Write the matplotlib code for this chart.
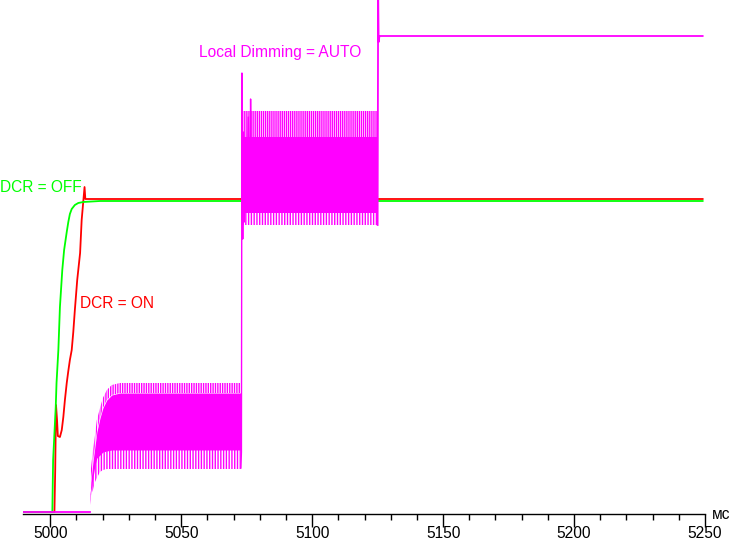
import matplotlib
matplotlib.use("Agg")
import matplotlib.pyplot as plt
import numpy as np

plt.rcParams['font.family'] = ['Liberation Sans', 'DejaVu Sans']
plt.rcParams['hatch.linewidth'] = 1.0

GREEN = '#00FF00'
RED = '#FF0000'
MAG = '#FF00FF'

# DCR = OFF (зелёная)
green_t = [4989.6, 5000.8, 5001.1, 5002.1, 5002.4, 5003.1, 5003.7, 5004.6, 5005.3, 5006.3,
           5006.9, 5007.5, 5008.2, 5009.4, 5010.7, 5012.6, 5019.0, 5249.1]
green_v = [0, 0, 52, 105, 129, 162, 205, 242, 262, 280, 290, 298, 303, 307, 309, 310, 311, 311]

# DCR = ON (красная)
red_t = [4989.6, 5001.6, 5001.9, 5002.2, 5002.6, 5002.9, 5003.7, 5004.4, 5005.0, 5005.6,
         5006.3, 5006.9, 5007.5, 5008.2, 5008.8, 5009.4, 5010.3, 5011.4, 5012.0, 5012.6,
         5013.1, 5013.4, 5249.1]
red_v = [0, 0, 42, 107, 92, 76, 75, 82, 95, 112, 129, 141, 152, 162, 180, 202, 232, 259,
         292, 310, 325, 313, 313]

# Local Dimming = AUTO (пурпурная) - участки линии
mag_base_t = [4989.6, 5015.2]
mag_base_v = [0, 0]
mag_jump_t = [5072.8, 5073.0, 5073.2, 5073.5, 5073.8, 5074.1, 5074.5, 5075.0, 5075.6, 5076.4, 5076.5, 5076.7]
mag_jump_v = [44, 60, 439, 273, 380, 290, 360, 300, 395, 300, 413, 320]
mag_end_t = [5125.0, 5125.2, 5125.4, 5125.7, 5249.1]
mag_end_v = [287, 520, 470, 476, 476]

# огибающие пульсаций, участок 1
p1_t = [5015.2, 5015.5, 5016.3, 5017.1, 5017.8, 5019.0, 5020.1, 5021.6, 5023.5, 5026.6, 5072.8]
p1_top = [22, 42, 62, 77, 92, 104, 114, 122, 127, 129, 129]
p1_in_top = [12, 30, 50, 66, 80, 94, 104, 112, 117, 119, 119]
p1_in_bot = [12, 20, 34, 47, 54, 57, 60, 61, 62, 62, 62]
p1_bot = [7, 17, 22, 30, 34, 40, 42, 43, 43, 43, 43]

# огибающие пульсаций, участок 2
p2_t = [5073.2, 5125.1]
p2_top = [401, 401]
p2_in_top = [375, 375]
p2_in_bot = [299, 299]
p2_bot = [287, 287]

fig = plt.figure(figsize=(7.31, 5.42), dpi=100)
ax = fig.add_axes([23 / 731, 1 - 514 / 542, 682 / 731, 514 / 542])

ax.plot(red_t, red_v, color=RED, lw=1.3, zorder=2)
ax.plot(green_t, green_v, color=GREEN, lw=1.3, zorder=3)

ax.plot(mag_base_t, mag_base_v, color=MAG, lw=1.3, zorder=4)
ax.plot(mag_jump_t, mag_jump_v, color=MAG, lw=1.0, zorder=4)
ax.plot(mag_end_t, mag_end_v, color=MAG, lw=1.3, zorder=4)

for t, top, itop, ibot, bot, h_top, h_bot in [
        (p1_t, p1_top, p1_in_top, p1_in_bot, p1_bot, '|||||||', '||||||'),
        (p2_t, p2_top, p2_in_top, p2_in_bot, p2_bot, '||||||||', '||||||')]:
    ax.fill_between(t, ibot, itop, color=MAG, lw=0, zorder=4)
    ax.fill_between(t, itop, top, facecolor='none', edgecolor=MAG, hatch=h_top, lw=0, zorder=4)
    ax.fill_between(t, bot, ibot, facecolor='none', edgecolor=MAG, hatch=h_bot, lw=0, zorder=4)

ax.set_xlim(4989.6, 5250)
ax.set_ylim(-2, 512)

for s in ['top', 'left', 'right']:
    ax.spines[s].set_visible(False)
ax.spines['bottom'].set_linewidth(1.0)
ax.set_yticks([])
ax.set_xticks([5000, 5050, 5100, 5150, 5200, 5250])
ax.set_xticks([t for t in range(5010, 5250, 10) if t % 50], minor=True)
ax.tick_params(axis='x', which='major', direction='out', length=9, width=1.0,
               labelsize=11.2, pad=0)
ax.tick_params(axis='x', which='minor', direction='out', length=4, width=1.0)

ax.text(1.0103, -0.0097, 'мс', transform=ax.transAxes, fontsize=11.2, va='baseline', ha='left')

fig.text(0 / 731, 1 - 187 / 542, 'DCR = OFF', color=GREEN, fontsize=11.2, va='center', ha='left')
fig.text(80 / 731, 1 - 304 / 542, 'DCR = ON', color=RED, fontsize=11.2, va='center', ha='left')
fig.text(199 / 731, 1 - 52 / 542, 'Local Dimming = AUTO', color=MAG, fontsize=11.2,
         va='center', ha='left')

fig.savefig('out.png', dpi=100)
